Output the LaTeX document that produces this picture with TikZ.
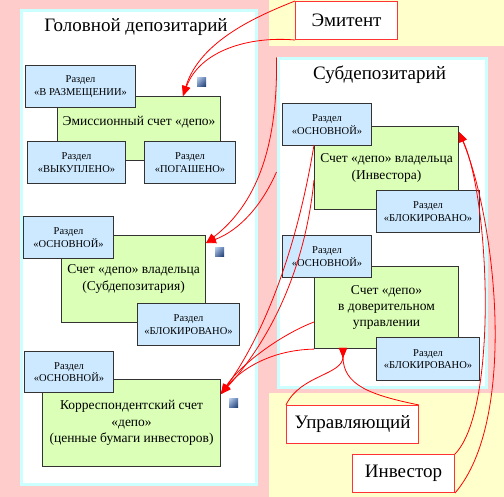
\documentclass[tikz,border=0pt]{standalone}
\usepackage{fontspec}
\setmainfont{Liberation Serif}
\usetikzlibrary{arrows.meta,shadings}
\definecolor{pinkbg}{HTML}{FFCCCC}
\definecolor{yelbg}{HTML}{FFFFCC}
\definecolor{cyanb}{HTML}{CCFFFF}
\definecolor{bluef}{HTML}{CCE9FF}
\definecolor{greenf}{HTML}{DBFFB7}
\definecolor{boxline}{HTML}{333333}
\definecolor{redl}{HTML}{FF0000}
\definecolor{redb}{HTML}{FF3333}
\definecolor{icl}{HTML}{B8CCE8}
\definecolor{icm}{HTML}{5A7AAE}
\definecolor{icd}{HTML}{1A3366}
\begin{document}
\begin{tikzpicture}[x=1pt,y=-1pt,
 panel/.style={draw=cyanb, line width=3pt, fill=white, inner sep=0pt, anchor=north west},
 bluebox/.style={draw=boxline, line width=1.1pt, fill=bluef, inner sep=0pt, anchor=north west, align=center, font=\fontsize{10.5}{12.5}\selectfont},
 greenbox/.style={draw=boxline, line width=1.1pt, fill=greenf, inner sep=0pt, anchor=north west, align=center, font=\fontsize{13.5}{16.3}\selectfont},
 redbox/.style={draw=redb, line width=1pt, fill=white, inner sep=0pt, anchor=north west, font=\fontsize{19}{22}\selectfont},
 ttl/.style={font=\fontsize{19}{22}\selectfont, anchor=base},
 arr/.style={draw=redl, line width=0.8pt, -{Triangle[length=10pt,width=8pt]}},
 arrrev/.style={draw=redl, line width=0.8pt, -{Triangle[length=10pt,width=8pt,reversed]}},
 icon/.style={upper left=icl, upper right=icm, lower left=icm, lower right=icd},
]
\useasboundingbox (0,0) rectangle (504,497);
% backgrounds
\fill[pinkbg] (0,0) rectangle (504,497);
\fill[yelbg] (269,0) rectangle (504,46);
\fill[yelbg] (269,393) rectangle (504,497);
\node[panel, minimum width=235pt, minimum height=473pt] (lp) at (19.5,9.5) {};
\node[panel, minimum width=208pt, minimum height=329pt] (rp) at (276.5,57.5) {};
\node[ttl] (tl) at (136,31.7) {Головной депозитарий};
\node[ttl] (tr) at (379.5,80) {Субдепозитарий};
% red boxes
\node[redbox, minimum width=102pt, minimum height=38pt] (emit) at (295,1) {Эмитент};
\node[redbox, minimum width=132pt, minimum height=38pt] (upr) at (286,405) {Управляющий};
\node[redbox, minimum width=102pt, minimum height=38pt] (inv) at (352,454) {Инвестор};
% left group 1
\node[greenbox, minimum width=163pt, minimum height=64pt, text height=9pt, text depth=15pt] (g1) at (57,96) {Эмиссионный счет «депо»};
\node[bluebox, minimum width=110pt, minimum height=42pt] (br) at (25,65) {Раздел\\«В РАЗМЕЩЕНИИ»};
\node[bluebox, minimum width=98pt, minimum height=42pt] (bv) at (27,141) {Раздел\\«ВЫКУПЛЕНО»};
\node[bluebox, minimum width=91pt, minimum height=42pt] (bp) at (144,141) {Раздел\\«ПОГАШЕНО»};
\shade[icon] (197,78) rectangle +(9,9);
% left group 2
\node[greenbox, minimum width=144pt, minimum height=87pt] (g2) at (61,235) {Счет «депо» владельца\\(Субдепозитария)};
\node[bluebox, minimum width=90pt, minimum height=42pt] (bo1) at (23,216) {Раздел\\«ОСНОВНОЙ»};
\node[bluebox, minimum width=102pt, minimum height=42pt] (bb1) at (137,303) {Раздел\\«БЛОКИРОВАНО»};
\shade[icon] (215,248) rectangle +(9,9);
% left group 3
\node[greenbox, minimum width=178pt, minimum height=87pt] (g3) at (42,379) {Корреспондентский счет\\«депо»\\(ценные бумаги инвесторов)};
\node[bluebox, minimum width=89pt, minimum height=41pt] (bo2) at (24,351) {Раздел\\«ОСНОВНОЙ»};
\shade[icon] (229,399) rectangle +(9,9);
% right group 1
\node[greenbox, minimum width=144pt, minimum height=83pt] (g4) at (314,126) {Счет «депо» владельца\\(Инвестора)};
\node[bluebox, minimum width=89pt, minimum height=42pt] (bo3) at (282,103) {Раздел\\«ОСНОВНОЙ»};
\node[bluebox, minimum width=103pt, minimum height=42pt] (bb3) at (376,190) {Раздел\\«БЛОКИРОВАНО»};
% right group 2
\node[greenbox, minimum width=144pt, minimum height=82pt] (g5) at (314,266) {Счет «депо»\\в доверительном\\управлении};
\node[bluebox, minimum width=89pt, minimum height=42pt] (bo4) at (282,235) {Раздел\\«ОСНОВНОЙ»};
\node[bluebox, minimum width=103pt, minimum height=43pt] (bb4) at (376,337) {Раздел\\«БЛОКИРОВАНО»};
% connector points
\coordinate (t1) at (183,96);
\coordinate (t2) at (206,243);
\coordinate (t3) at (221,394);
\coordinate (t4) at (343,348);
\coordinate (t5) at (459,132);
\coordinate (s2) at (276.5,172);
\coordinate (k1) at (314,145);
\coordinate (k2) at (314,180);
\coordinate (k3) at (314,322);
% connectors
\draw[arr] (emit.north west) .. controls (260,15) and (200,40) .. (t1);
\draw[arr] (emit.south west) .. controls (250,36) and (200,50) .. (t1);
\draw[arr] (rp.north west) .. controls (278,150) and (255,205) .. (t2);
\draw[arr] (s2) .. controls (262,205) and (240,230) .. (t2);
\draw[arr] (k1) .. controls (295,260) and (260,340) .. (t3);
\draw[arr] (k2) .. controls (305,270) and (270,340) .. (t3);
\draw[arr] (k3) .. controls (280,335) and (240,365) .. (t3);
\draw[arr] (g5.south west) .. controls (270,350) and (240,370) .. (t3);
\draw[arrrev] (upr.north west) .. controls (300,375) and (343,375) .. (t4);
\draw[arrrev] (upr.north east) .. controls (370,395) and (343,385) .. (t4);
\draw[arr] (inv.north east) .. controls (498,410) and (490,200) .. (t5);
\draw[arr] (inv.south east) .. controls (518,420) and (496,220) .. (t5);
\end{tikzpicture}
\end{document}
